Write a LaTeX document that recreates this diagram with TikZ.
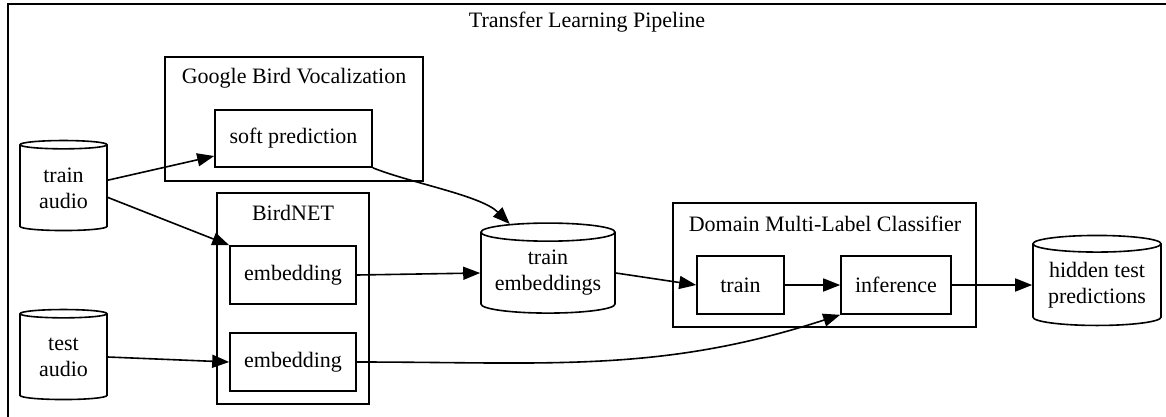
\documentclass[tikz,border=0pt]{standalone}
\usepackage{fontspec}
\setmainfont{Liberation Serif}
\usetikzlibrary{shapes.geometric,arrows.meta}

\begin{document}
\begin{tikzpicture}[x=1pt,y=-1pt,
    every node/.style={font=\fontsize{22}{26}\selectfont},
    box/.style={draw,line width=1.6pt,rectangle,inner sep=0pt},
    cluster/.style={draw,line width=1.6pt,rectangle,inner sep=0pt},
    store/.style={draw,line width=1.6pt,cylinder,shape border rotate=90,aspect=0.17,
      align=center,inner sep=0pt},
    flow/.style={line width=1.6pt,-{Triangle[length=17pt,width=13pt]}}]
    \clip (0,0) rectangle (1166,416);

    \node (pipe) at (591.5,214.5) [cluster,minimum width=1167,minimum height=421] {};
    \node at (587,22) {Transfer Learning Pipeline};

    \node (google) at (294,119) [cluster,minimum width=258,minimum height=124] {};
    \node at (294,78) {Google Bird Vocalization};
    \node (birdnet) at (293,298.5) [cluster,minimum width=152,minimum height=211] {};
    \node at (293,213) {BirdNET};
    \node (domain) at (824.5,265) [cluster,minimum width=303,minimum height=124] {};
    \node at (825,224) {Domain Multi-Label Classifier};

    \node (soft) at (293.5,138.5) [box,minimum width=157,minimum height=57] {soft prediction};
    \node (emb1) at (293,275) [box,minimum width=126,minimum height=58] {embedding};
    \node (emb2) at (293,362) [box,minimum width=126,minimum height=58] {embedding};
    \node (trn) at (740.5,285) [box,minimum width=87,minimum height=58] {train};
    \node (inf) at (896,285) [box,minimum width=110,minimum height=58] {inference};

    \node (trainaudio) at (63.5,188) [store,minimum width=87,minimum height=90] {train\\audio};
    \node (testaudio) at (63.5,357) [store,minimum width=87,minimum height=90] {test\\audio};
    \node (trainemb) at (548,273) [store,minimum width=134,minimum height=90] {train\\embeddings};
    \node (hidden) at (1097,285) [store,minimum width=128,minimum height=90] {hidden test\\predictions};

    \draw[flow] (trainaudio.10) to (soft.west |- 0,156);
    \draw[flow] (trainaudio.-12) to (emb1.north west);
    \draw[flow] (testaudio.east) to (emb2.west);
    \draw[flow] (soft.south east) to [out=-22,in=135,looseness=0.7] (trainemb.128);
    \draw[flow] (emb1.east) to (trainemb.west);
    \draw[flow] (emb2.east) to [out=0,in=198] (inf.south west);
    \draw[flow] (trainemb.east) to (trn.west);
    \draw[flow] (trn.east) to (inf.west);
    \draw[flow] (inf.east) to (hidden.west);
  \end{tikzpicture}
\end{document}
